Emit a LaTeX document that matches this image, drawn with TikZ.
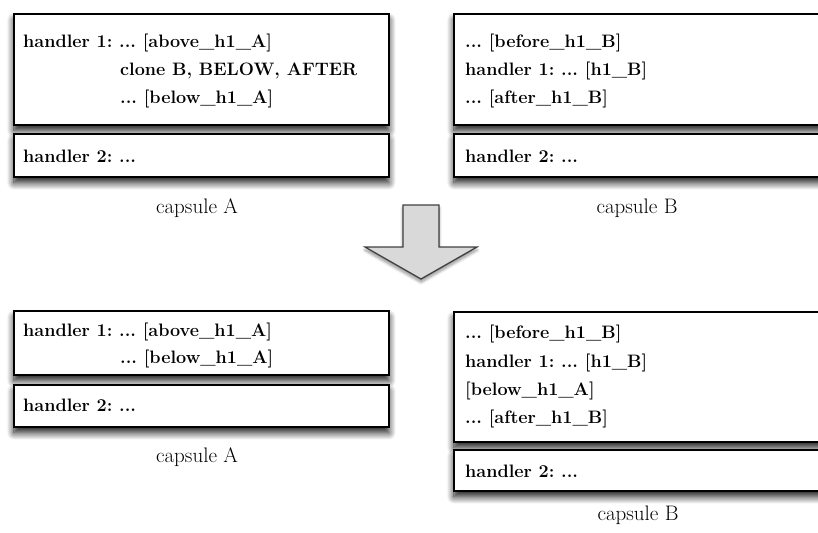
\documentclass[tikz,border=0pt]{standalone}
\usetikzlibrary{shadows.blur}
\frenchspacing
\begin{document}
\begin{tikzpicture}[x=1pt,y=-1pt,
  box/.style={draw=black, line width=1.8pt, fill=white, rectangle, inner sep=0pt,
    anchor=north west,
    blur shadow={shadow xshift=0pt, shadow yshift=-6pt, shadow blur radius=7pt,
      shadow blur steps=14, shadow opacity=90}},
  txt/.style={anchor=base west, inner sep=0pt, font=\fontsize{18}{20}\selectfont\bfseries},
  capsulelabel/.style={anchor=base, inner sep=0pt, font=\fontsize{21}{22}\selectfont},
  bigarrow/.style={draw=black!75, line width=1.3pt, fill=black!15, line join=miter,
    blur shadow={shadow xshift=0pt, shadow yshift=-3pt, shadow blur radius=3pt,
      shadow blur steps=8, shadow opacity=45}}]
\useasboundingbox (0,0) rectangle (818,532);
\clip (0,0) rectangle (818,532);

% capsule A, before
\node[box, minimum width=375pt, minimum height=111pt] (a1) at (13,13) {};
\node[box, minimum width=375pt, minimum height=43pt] (a2) at (13,133) {};
\node[txt] (a1t1) at (23,48) {handler 1: ... [above\_h1\_A]};
\node[txt] (a1t2) at (120,76) {clone B, BELOW, AFTER};
\node[txt] (a1t3) at (120,103) {... [below\_h1\_A]};
\node[txt] (a2t) at (23,162) {handler 2: ...};
\node[capsulelabel] (capA1) at (197,213) {capsule A};

% capsule B, before
\node[box, minimum width=400pt, minimum height=111pt] (b1) at (453,13) {};
\node[box, minimum width=400pt, minimum height=43pt] (b2) at (453,133) {};
\node[txt] (b1t1) at (465,48) {... [before\_h1\_B]};
\node[txt] (b1t2) at (465,76) {handler 1: ... [h1\_B]};
\node[txt] (b1t3) at (465,103) {... [after\_h1\_B]};
\node[txt] (b2t) at (465,162) {handler 2: ...};
\node[capsulelabel] (capB1) at (637,213) {capsule B};

% transformation arrow
\draw[bigarrow] (403,205) -- (439,205) -- (439,247) -- (477,247) -- (421,279)
  -- (365,247) -- (403,247) -- cycle;

% capsule A, after
\node[box, minimum width=375pt, minimum height=64pt] (c1) at (13,310) {};
\node[box, minimum width=375pt, minimum height=42pt] (c2) at (13,384) {};
\node[txt] (c1t1) at (23,336) {handler 1: ... [above\_h1\_A]};
\node[txt] (c1t2) at (120,363) {... [below\_h1\_A]};
\node[txt] (c2t) at (23,411) {handler 2: ...};
\node[capsulelabel] (capA2) at (197,462) {capsule A};

% capsule B, after
\node[box, minimum width=400pt, minimum height=130pt] (d1) at (453,311) {};
\node[box, minimum width=400pt, minimum height=41pt] (d2) at (453,449) {};
\node[txt] (d1t1) at (465,338) {... [before\_h1\_B]};
\node[txt] (d1t2) at (465,367) {handler 1: ... [h1\_B]};
\node[txt] (d1t3) at (465,395) {[below\_h1\_A]};
\node[txt] (d1t4) at (465,423) {... [after\_h1\_B]};
\node[txt] (d2t) at (465,477) {handler 2: ...};
\node[capsulelabel] (capB2) at (638,520) {capsule B};
\end{tikzpicture}
\end{document}
